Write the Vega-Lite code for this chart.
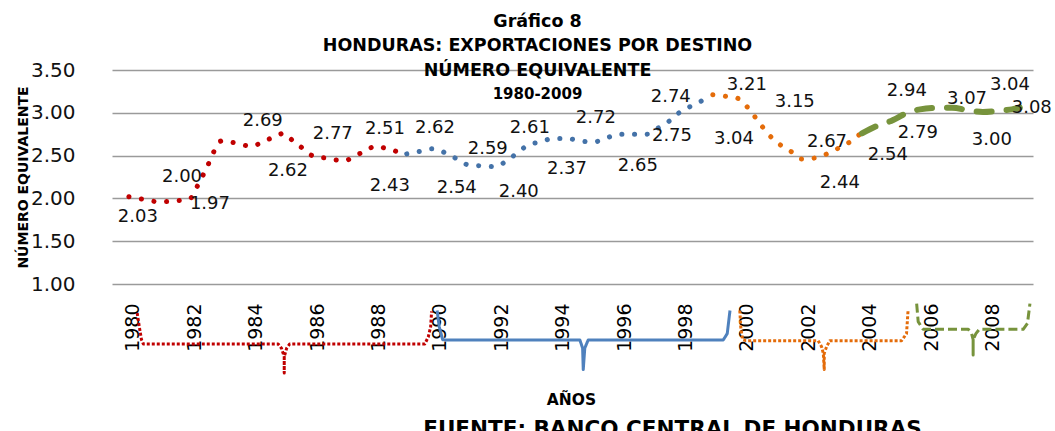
{
  "$schema": "https://vega.github.io/schema/vega-lite/v6.json",
  "width": 921,
  "height": 214,
  "autosize": {"type": "none"},
  "padding": {"left": 112, "top": 70, "right": 22, "bottom": 147},
  "background": "white",
  "title": {
    "text": ["Gráfico 8", "HONDURAS: EXPORTACIONES POR DESTINO", "NÚMERO EQUIVALENTE"],
    "subtitle": "1980-2009",
    "anchor": "middle",
    "frame": "group",
    "font": "DejaVu Sans",
    "fontSize": 17.5,
    "fontWeight": "bold",
    "color": "#000000",
    "lineHeight": 24.5,
    "subtitleFont": "DejaVu Sans",
    "subtitleFontSize": 15,
    "subtitleFontWeight": "bold",
    "subtitleColor": "#000000",
    "subtitlePadding": 8,
    "dx": -35,
    "dy": 46
  },
  "datasets": {
    "serie": [
      {"tramo": "1980-1989", "year": 1980.00, "value": 2.02},
      {"tramo": "1980-1989", "year": 1980.45, "value": 1.99},
      {"tramo": "1980-1989", "year": 1981.00, "value": 1.96},
      {"tramo": "1980-1989", "year": 1981.47, "value": 1.97},
      {"tramo": "1980-1989", "year": 1982.00, "value": 2.00},
      {"tramo": "1980-1989", "year": 1982.21, "value": 2.13},
      {"tramo": "1980-1989", "year": 1982.55, "value": 2.37},
      {"tramo": "1980-1989", "year": 1982.88, "value": 2.62},
      {"tramo": "1980-1989", "year": 1983.00, "value": 2.67},
      {"tramo": "1980-1989", "year": 1983.43, "value": 2.65},
      {"tramo": "1980-1989", "year": 1984.00, "value": 2.61},
      {"tramo": "1980-1989", "year": 1984.41, "value": 2.67},
      {"tramo": "1980-1989", "year": 1984.81, "value": 2.73},
      {"tramo": "1980-1989", "year": 1985.03, "value": 2.76},
      {"tramo": "1980-1989", "year": 1985.35, "value": 2.67},
      {"tramo": "1980-1989", "year": 1985.68, "value": 2.58},
      {"tramo": "1980-1989", "year": 1985.97, "value": 2.50},
      {"tramo": "1980-1989", "year": 1986.42, "value": 2.47},
      {"tramo": "1980-1989", "year": 1987.01, "value": 2.44},
      {"tramo": "1980-1989", "year": 1987.39, "value": 2.50},
      {"tramo": "1980-1989", "year": 1987.78, "value": 2.57},
      {"tramo": "1980-1989", "year": 1988.02, "value": 2.61},
      {"tramo": "1980-1989", "year": 1988.41, "value": 2.58},
      {"tramo": "1980-1989", "year": 1988.88, "value": 2.53},
      {"tramo": "1989-1999", "year": 1989.05, "value": 2.52},
      {"tramo": "1989-1999", "year": 1989.48, "value": 2.55},
      {"tramo": "1989-1999", "year": 1989.91, "value": 2.58},
      {"tramo": "1989-1999", "year": 1990.32, "value": 2.53},
      {"tramo": "1989-1999", "year": 1990.69, "value": 2.46},
      {"tramo": "1989-1999", "year": 1991.07, "value": 2.39},
      {"tramo": "1989-1999", "year": 1991.51, "value": 2.38},
      {"tramo": "1989-1999", "year": 1991.95, "value": 2.37},
      {"tramo": "1989-1999", "year": 1992.30, "value": 2.44},
      {"tramo": "1989-1999", "year": 1992.65, "value": 2.53},
      {"tramo": "1989-1999", "year": 1992.99, "value": 2.62},
      {"tramo": "1989-1999", "year": 1993.42, "value": 2.66},
      {"tramo": "1989-1999", "year": 1993.82, "value": 2.70},
      {"tramo": "1989-1999", "year": 1994.28, "value": 2.70},
      {"tramo": "1989-1999", "year": 1994.71, "value": 2.67},
      {"tramo": "1989-1999", "year": 1995.15, "value": 2.66},
      {"tramo": "1989-1999", "year": 1995.58, "value": 2.71},
      {"tramo": "1989-1999", "year": 1996.02, "value": 2.75},
      {"tramo": "1989-1999", "year": 1996.45, "value": 2.75},
      {"tramo": "1989-1999", "year": 1996.86, "value": 2.75},
      {"tramo": "1989-1999", "year": 1997.23, "value": 2.82},
      {"tramo": "1989-1999", "year": 1997.59, "value": 2.90},
      {"tramo": "1989-1999", "year": 1997.92, "value": 3.00},
      {"tramo": "1989-1999", "year": 1998.27, "value": 3.07},
      {"tramo": "1989-1999", "year": 1998.66, "value": 3.14},
      {"tramo": "1999-2004", "year": 1999.02, "value": 3.21},
      {"tramo": "1999-2004", "year": 1999.48, "value": 3.19},
      {"tramo": "1999-2004", "year": 1999.90, "value": 3.16},
      {"tramo": "1999-2004", "year": 2000.16, "value": 3.06},
      {"tramo": "1999-2004", "year": 2000.42, "value": 2.94},
      {"tramo": "1999-2004", "year": 2000.65, "value": 2.83},
      {"tramo": "1999-2004", "year": 2000.91, "value": 2.72},
      {"tramo": "1999-2004", "year": 2001.24, "value": 2.62},
      {"tramo": "1999-2004", "year": 2001.60, "value": 2.54},
      {"tramo": "1999-2004", "year": 2001.92, "value": 2.46},
      {"tramo": "1999-2004", "year": 2002.31, "value": 2.47},
      {"tramo": "1999-2004", "year": 2002.74, "value": 2.52},
      {"tramo": "1999-2004", "year": 2003.13, "value": 2.59},
      {"tramo": "1999-2004", "year": 2003.49, "value": 2.66},
      {"tramo": "1999-2004", "year": 2003.81, "value": 2.75},
      {"tramo": "2004-2009", "year": 2003.88, "value": 2.76},
      {"tramo": "2004-2009", "year": 2004.46, "value": 2.86},
      {"tramo": "2004-2009", "year": 2004.72, "value": 2.89},
      {"tramo": "2004-2009", "year": 2005.44, "value": 3.01},
      {"tramo": "2004-2009", "year": 2005.77, "value": 3.04},
      {"tramo": "2004-2009", "year": 2006.48, "value": 3.06},
      {"tramo": "2004-2009", "year": 2006.81, "value": 3.06},
      {"tramo": "2004-2009", "year": 2007.46, "value": 3.02},
      {"tramo": "2004-2009", "year": 2007.82, "value": 3.01},
      {"tramo": "2004-2009", "year": 2008.47, "value": 3.03},
      {"tramo": "2004-2009", "year": 2008.76, "value": 3.04},
      {"tramo": "2004-2009", "year": 2009.02, "value": 3.06}
    ],
    "etiquetas": [
      {"v": 2.03, "lx": 1980.29, "ly": 1.78},
      {"v": 2.00, "lx": 1981.73, "ly": 2.25},
      {"v": 1.97, "lx": 1982.64, "ly": 1.93},
      {"v": 2.69, "lx": 1984.36, "ly": 2.90},
      {"v": 2.62, "lx": 1985.18, "ly": 2.32},
      {"v": 2.77, "lx": 1986.64, "ly": 2.75},
      {"v": 2.51, "lx": 1988.34, "ly": 2.81},
      {"v": 2.43, "lx": 1988.50, "ly": 2.14},
      {"v": 2.62, "lx": 1989.97, "ly": 2.82},
      {"v": 2.54, "lx": 1990.68, "ly": 2.12},
      {"v": 2.59, "lx": 1991.69, "ly": 2.58},
      {"v": 2.40, "lx": 1992.70, "ly": 2.07},
      {"v": 2.61, "lx": 1993.06, "ly": 2.82},
      {"v": 2.37, "lx": 1994.27, "ly": 2.34},
      {"v": 2.72, "lx": 1995.21, "ly": 2.94},
      {"v": 2.65, "lx": 1996.58, "ly": 2.38},
      {"v": 2.74, "lx": 1997.65, "ly": 3.18},
      {"v": 2.75, "lx": 1997.69, "ly": 2.73},
      {"v": 3.21, "lx": 2000.13, "ly": 3.32},
      {"v": 3.04, "lx": 1999.71, "ly": 2.69},
      {"v": 3.15, "lx": 2001.69, "ly": 3.13},
      {"v": 2.67, "lx": 2002.74, "ly": 2.66},
      {"v": 2.44, "lx": 2003.16, "ly": 2.18},
      {"v": 2.54, "lx": 2004.72, "ly": 2.51},
      {"v": 2.94, "lx": 2005.34, "ly": 3.25},
      {"v": 2.79, "lx": 2005.70, "ly": 2.76},
      {"v": 3.07, "lx": 2007.30, "ly": 3.16},
      {"v": 3.00, "lx": 2008.11, "ly": 2.68},
      {"v": 3.04, "lx": 2008.70, "ly": 3.32},
      {"v": 3.08, "lx": 2009.41, "ly": 3.06}
    ],
    "llaves": [
      {"grupo": "1980-1989", "ord": 1, "bx": 1980.27, "by": 0.66},
      {"grupo": "1980-1989", "ord": 2, "bx": 1980.34, "by": 0.50},
      {"grupo": "1980-1989", "ord": 3, "bx": 1980.41, "by": 0.35},
      {"grupo": "1980-1989", "ord": 4, "bx": 1980.47, "by": 0.30},
      {"grupo": "1980-1989", "ord": 5, "bx": 1984.86, "by": 0.30},
      {"grupo": "1980-1989", "ord": 6, "bx": 1984.97, "by": 0.25},
      {"grupo": "1980-1989", "ord": 7, "bx": 1985.06, "by": 0.15},
      {"grupo": "1980-1989", "ord": 8, "bx": 1985.06, "by": -0.04},
      {"grupo": "1980-1989", "ord": 9, "bx": 1985.06, "by": 0.15},
      {"grupo": "1980-1989", "ord": 10, "bx": 1985.14, "by": 0.25},
      {"grupo": "1980-1989", "ord": 11, "bx": 1985.24, "by": 0.30},
      {"grupo": "1980-1989", "ord": 12, "bx": 1989.64, "by": 0.30},
      {"grupo": "1980-1989", "ord": 13, "bx": 1989.75, "by": 0.38},
      {"grupo": "1980-1989", "ord": 14, "bx": 1989.83, "by": 0.50},
      {"grupo": "1980-1989", "ord": 15, "bx": 1989.86, "by": 0.68},
      {"grupo": "1990-1999", "ord": 1, "bx": 1990.04, "by": 0.69},
      {"grupo": "1990-1999", "ord": 2, "bx": 1990.11, "by": 0.50},
      {"grupo": "1990-1999", "ord": 3, "bx": 1990.22, "by": 0.35},
      {"grupo": "1990-1999", "ord": 4, "bx": 1990.33, "by": 0.346},
      {"grupo": "1990-1999", "ord": 5, "bx": 1994.69, "by": 0.346},
      {"grupo": "1990-1999", "ord": 6, "bx": 1994.78, "by": 0.25},
      {"grupo": "1990-1999", "ord": 7, "bx": 1994.80, "by": 0.0},
      {"grupo": "1990-1999", "ord": 8, "bx": 1994.85, "by": 0.25},
      {"grupo": "1990-1999", "ord": 9, "bx": 1994.96, "by": 0.346},
      {"grupo": "1990-1999", "ord": 10, "bx": 1999.36, "by": 0.346},
      {"grupo": "1990-1999", "ord": 11, "bx": 1999.49, "by": 0.42},
      {"grupo": "1990-1999", "ord": 12, "bx": 1999.58, "by": 0.69},
      {"grupo": "2000-2005", "ord": 1, "bx": 1999.90, "by": 0.69},
      {"grupo": "2000-2005", "ord": 2, "bx": 1999.93, "by": 0.50},
      {"grupo": "2000-2005", "ord": 3, "bx": 1999.99, "by": 0.35},
      {"grupo": "2000-2005", "ord": 4, "bx": 2000.10, "by": 0.338},
      {"grupo": "2000-2005", "ord": 5, "bx": 2002.45, "by": 0.338},
      {"grupo": "2000-2005", "ord": 6, "bx": 2002.56, "by": 0.27},
      {"grupo": "2000-2005", "ord": 7, "bx": 2002.62, "by": 0.19},
      {"grupo": "2000-2005", "ord": 8, "bx": 2002.65, "by": 0.0},
      {"grupo": "2000-2005", "ord": 9, "bx": 2002.65, "by": 0.19},
      {"grupo": "2000-2005", "ord": 10, "bx": 2002.73, "by": 0.27},
      {"grupo": "2000-2005", "ord": 11, "bx": 2002.83, "by": 0.338},
      {"grupo": "2000-2005", "ord": 12, "bx": 2005.17, "by": 0.338},
      {"grupo": "2000-2005", "ord": 13, "bx": 2005.33, "by": 0.42},
      {"grupo": "2000-2005", "ord": 14, "bx": 2005.38, "by": 0.69},
      {"grupo": "2006-2009", "ord": 1, "bx": 2005.66, "by": 0.77},
      {"grupo": "2006-2009", "ord": 2, "bx": 2005.71, "by": 0.56},
      {"grupo": "2006-2009", "ord": 3, "bx": 2005.87, "by": 0.471},
      {"grupo": "2006-2009", "ord": 4, "bx": 2007.34, "by": 0.471},
      {"grupo": "2006-2009", "ord": 5, "bx": 2007.45, "by": 0.42},
      {"grupo": "2006-2009", "ord": 6, "bx": 2007.50, "by": 0.35},
      {"grupo": "2006-2009", "ord": 7, "bx": 2007.50, "by": 0.17},
      {"grupo": "2006-2009", "ord": 8, "bx": 2007.50, "by": 0.35},
      {"grupo": "2006-2009", "ord": 9, "bx": 2007.59, "by": 0.42},
      {"grupo": "2006-2009", "ord": 10, "bx": 2007.70, "by": 0.471},
      {"grupo": "2006-2009", "ord": 11, "bx": 2009.13, "by": 0.471},
      {"grupo": "2006-2009", "ord": 12, "bx": 2009.27, "by": 0.54},
      {"grupo": "2006-2009", "ord": 13, "bx": 2009.35, "by": 0.77}
    ]
  },
  "resolve": {"axis": {"x": "independent"}},
  "layer": [
    {
      "data": {"name": "serie"},
      "transform": [{"filter": "datum.tramo === '1980-1989'"}],
      "mark": {"type": "line", "interpolate": "monotone", "color": "#C00000", "strokeWidth": 5, "strokeCap": "round", "strokeDash": [0.1, 12.6]},
      "encoding": {
        "x": {
          "field": "year", "type": "quantitative",
          "scale": {"domain": [1979.45, 2009.45], "nice": false, "zero": false},
          "axis": {
            "orient": "bottom",
            "values": [1980, 1982, 1984, 1986, 1988, 1990, 1992, 1994, 1996, 1998, 2000, 2002, 2004, 2006, 2008],
            "format": "d",
            "labelAngle": -90,
            "labelFont": "DejaVu Sans",
            "labelFontSize": 19,
            "labelColor": "#000000",
            "labelPadding": 19,
            "labelOffset": 4,
            "ticks": false,
            "tickSize": 0,
            "domain": false,
            "grid": false,
            "title": "AÑOS",
            "titleFont": "DejaVu Sans",
            "titleFontSize": 15.5,
            "titleFontWeight": "bold",
            "titleColor": "#000000",
            "titleX": 459,
            "titleY": 120,
            "titleAnchor": "middle",
            "titleAlign": "center",
            "titleBaseline": "alphabetic"
          }
        },
        "y": {
          "field": "value", "type": "quantitative",
          "scale": {"domain": [1, 3.5], "nice": false, "zero": false},
          "axis": {
            "values": [1, 1.5, 2, 2.5, 3, 3.5],
            "format": ".2f",
            "labelFont": "DejaVu Sans",
            "labelFontSize": 20,
            "labelColor": "#111111",
            "labelPadding": 37,
            "ticks": false,
            "tickSize": 0,
            "domain": false,
            "grid": true,
            "gridColor": "#9a9a9a",
            "gridWidth": 1.6,
            "title": "NÚMERO EQUIVALENTE",
            "titleFont": "DejaVu Sans",
            "titleFontSize": 14,
            "titleFontWeight": "bold",
            "titleColor": "#000000",
            "titleX": -85,
            "titleY": 107,
            "titleAngle": -90,
            "titleAlign": "center",
            "titleBaseline": "alphabetic"
          }
        }
      }
    },
    {
      "data": {"name": "serie"},
      "transform": [{"filter": "datum.tramo === '1989-1999'"}],
      "mark": {"type": "line", "interpolate": "monotone", "color": "#4472A8", "strokeWidth": 5, "strokeCap": "round", "strokeDash": [0.1, 12.6]},
      "encoding": {
        "x": {"field": "year", "type": "quantitative", "scale": {"domain": [1979.45, 2009.45], "nice": false, "zero": false}, "axis": null},
        "y": {"field": "value", "type": "quantitative", "scale": {"domain": [1, 3.5], "nice": false, "zero": false}, "title": "NÚMERO EQUIVALENTE"}
      }
    },
    {
      "data": {"name": "serie"},
      "transform": [{"filter": "datum.tramo === '1999-2004'"}],
      "mark": {"type": "line", "interpolate": "monotone", "color": "#E46C0A", "strokeWidth": 5, "strokeCap": "round", "strokeDash": [0.1, 12.6]},
      "encoding": {
        "x": {"field": "year", "type": "quantitative", "scale": {"domain": [1979.45, 2009.45], "nice": false, "zero": false}, "axis": null},
        "y": {"field": "value", "type": "quantitative", "scale": {"domain": [1, 3.5], "nice": false, "zero": false}, "title": "NÚMERO EQUIVALENTE"}
      }
    },
    {
      "data": {"name": "serie"},
      "transform": [{"filter": "datum.tramo === '2004-2009'"}],
      "mark": {"type": "line", "interpolate": "monotone", "color": "#77933C", "strokeWidth": 6, "strokeCap": "round", "strokeDash": [15, 15]},
      "encoding": {
        "x": {"field": "year", "type": "quantitative", "scale": {"domain": [1979.45, 2009.45], "nice": false, "zero": false}, "axis": null},
        "y": {"field": "value", "type": "quantitative", "scale": {"domain": [1, 3.5], "nice": false, "zero": false}, "title": "NÚMERO EQUIVALENTE"}
      }
    },
    {
      "data": {"name": "llaves"},
      "mark": {"type": "line", "clip": false, "strokeWidth": 3, "strokeCap": "butt", "strokeJoin": "round"},
      "encoding": {
        "x": {
          "field": "bx", "type": "quantitative",
          "scale": {"domain": [1979.45, 2009.45], "nice": false, "zero": false},
          "axis": {
            "orient": "top",
            "labels": false,
            "ticks": false,
            "domain": false,
            "grid": false,
            "title": "FUENTE: BANCO CENTRAL  DE HONDURAS",
            "titleFont": "DejaVu Sans",
            "titleFontSize": 21.5,
            "titleFontWeight": "bold",
            "titleColor": "#000000",
            "titleX": 560,
            "titleY": 365,
            "titleAlign": "center",
            "titleAnchor": "middle",
            "titleBaseline": "alphabetic"
          }
        },
        "y": {"field": "by", "type": "quantitative", "scale": {"domain": [1, 3.5], "nice": false, "zero": false}, "title": "NÚMERO EQUIVALENTE"},
        "order": {"field": "ord", "type": "quantitative"},
        "color": {
          "field": "grupo", "type": "nominal",
          "scale": {"domain": ["1980-1989", "1990-1999", "2000-2005", "2006-2009"], "range": ["#C00000", "#4F81BD", "#E46C0A", "#77933C"]},
          "legend": null
        },
        "strokeDash": {
          "field": "grupo", "type": "nominal",
          "scale": {"domain": ["1980-1989", "1990-1999", "2000-2005", "2006-2009"], "range": [[3, 2], [1, 0], [3, 2], [9, 4]]},
          "legend": null
        }
      }
    },
    {
      "data": {"name": "etiquetas"},
      "mark": {"type": "text", "font": "DejaVu Sans", "fontSize": 18, "color": "#111111", "align": "center", "baseline": "middle", "clip": false},
      "encoding": {
        "x": {"field": "lx", "type": "quantitative", "scale": {"domain": [1979.45, 2009.45], "nice": false, "zero": false}, "axis": null},
        "y": {"field": "ly", "type": "quantitative", "scale": {"domain": [1, 3.5], "nice": false, "zero": false}, "title": "NÚMERO EQUIVALENTE"},
        "text": {"field": "v", "type": "quantitative", "format": ".2f"}
      }
    }
  ],
  "config": {
    "view": {"stroke": null},
    "axis": {"labelFlush": false, "labelOverlap": false}
  }
}
